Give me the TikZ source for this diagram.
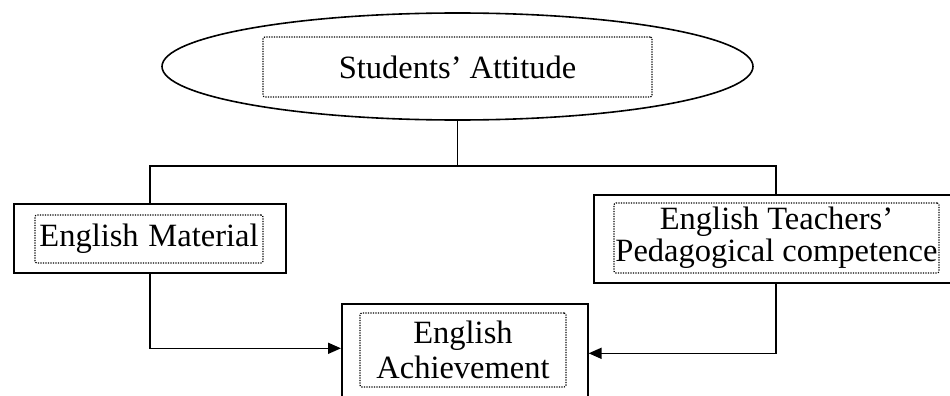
\documentclass[tikz,border=0pt]{standalone}
\usepackage{fontspec}
\setmainfont{Liberation Serif}
\usetikzlibrary{shapes.geometric,arrows.meta}
\begin{document}
\begin{tikzpicture}[x=1pt,y=-1pt,
  line width=1.6pt,
  outerbox/.style={draw, rectangle, inner sep=0pt, anchor=north west},
  dotbox/.style={draw, rectangle, line width=1.2pt, dash pattern=on 1.2pt off 1.3pt,
    rounded corners=2pt, inner sep=0pt, align=center,
    font=\fontsize{32.5}{35}\selectfont},
  arr/.style={-{Triangle[length=13pt,width=11pt]}}]
\useasboundingbox (0,0) rectangle (950,396);
\clip (0,0) rectangle (950,396);
% ellipse
\node[draw, ellipse, minimum width=591pt, minimum height=107pt, inner sep=0pt] (ell) at (457.5,66.5) {};
\node[dotbox, minimum width=389pt, minimum height=60pt] (sa) at (457.5,67) {Students' Attitude};
% outer boxes
\node[outerbox, minimum width=272pt, minimum height=69pt] (mat) at (13,203) {};
\node[outerbox, minimum width=364pt, minimum height=88pt] (tea) at (593,194) {};
\node[outerbox, minimum width=246pt, minimum height=107pt] (ach) at (341,303) {};
% dotted text boxes
\node[dotbox, minimum width=228pt, minimum height=48pt] (matt) at (149,239) {English\hspace{0.3em}Material};
\node[dotbox, minimum width=325pt, minimum height=70pt] (teat) at (776.5,238) {English Teachers'\\[-3pt]Pedagogical competence};
\node[dotbox, minimum width=206pt, minimum height=74pt] (acht) at (463,350) {English\\Achievement};
% connectors
\coordinate (jc) at (457.5,166);
\draw (ell.south) -- (jc);
\draw (mat.north) |- (jc) -| (tea.north);
\draw[arr] (mat.south) |- ([yshift=9pt]ach.west);
\draw[arr] (tea.south) |- ([yshift=4pt]ach.east);
\end{tikzpicture}
\end{document}
